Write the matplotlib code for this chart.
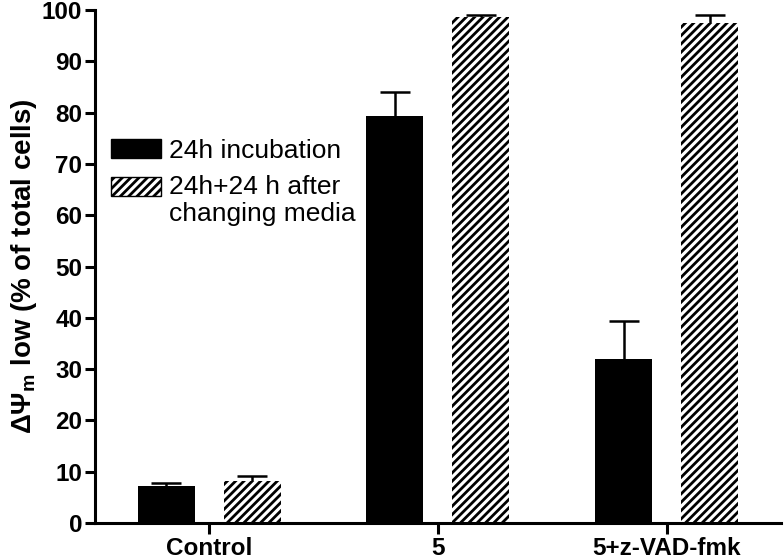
import numpy as np
import matplotlib
matplotlib.use("Agg")
import matplotlib.pyplot as plt
from matplotlib.patches import Rectangle
from matplotlib.legend_handler import HandlerPatch

plt.rcParams['font.family'] = ['Liberation Sans', 'DejaVu Sans']
plt.rcParams['mathtext.fontset'] = 'custom'
plt.rcParams['mathtext.rm'] = 'Liberation Sans'
plt.rcParams['mathtext.bf'] = 'Liberation Sans:bold'
plt.rcParams['mathtext.it'] = 'Liberation Sans:italic'
plt.rcParams['hatch.linewidth'] = 2.0
plt.rcParams['hatch.color'] = 'black'

kategorie = ['Control', '5', '5+z-VAD-fmk']
seria_24h = [7.3, 79.3, 31.9]
blad_24h = [0.6, 4.7, 7.5]
seria_48h = [8.2, 98.6, 97.5]
blad_48h = [1.0, 0.5, 1.6]
etykiety = ['24h incubation', '24h+24 h after\nchanging media']

x = np.arange(len(kategorie))
szer = 0.25
przes = 0.188
WZOR = '////'

fig = plt.figure(figsize=(7.84, 5.6), dpi=100)
ax = fig.add_axes([0.121, 0.066, 0.875, 0.916])


def slupki_bledu(xs, ys, bledy):
    # tylko gorna polowa bledu, jak w GraphPad
    ys = np.array(ys)
    gora = ys + np.array(bledy)
    ax.vlines(xs, ys, gora, color='black', linewidth=1.8, zorder=1)
    ax.plot(xs, gora, ls='none', marker='_', markersize=22, mew=1.8,
            color='black', zorder=1)


ax.bar(x - przes, seria_24h, szer, color='black', zorder=2)
slupki_bledu(x - przes, seria_24h, blad_24h)
ax.bar(x + przes, seria_48h, szer, color='white', edgecolor='black',
       linewidth=0, hatch=WZOR, zorder=2)
slupki_bledu(x + przes, seria_48h, blad_48h)

ax.set_ylim(0, 100)
ax.set_xlim(-0.5, 2.5)
ax.set_yticks(np.arange(0, 101, 10))
ax.set_xticks(x)
ax.set_xticklabels(kategorie, fontsize=17.5, fontweight='bold')
for t in ax.get_yticklabels():
    t.set_fontsize(17.5)
    t.set_fontweight('bold')

ax.set_ylabel(r'$\mathbf{\Delta\Psi_m}$ low (% of total cells)', fontsize=20,
              fontweight='bold', labelpad=2)

for s in ['top', 'right']:
    ax.spines[s].set_visible(False)
for s in ['left', 'bottom']:
    ax.spines[s].set_linewidth(2.2)
ax.tick_params(axis='y', length=7, width=2.2, pad=2)
ax.tick_params(axis='x', length=8, width=2.2, pad=2)

# uchwyty legendy
h_czarny = Rectangle((0, 0), 1, 1, facecolor='black', edgecolor='black', linewidth=1)
h_paski = Rectangle((0, 0), 1, 1, facecolor='white', edgecolor='black', linewidth=1,
                    hatch=WZOR)


def uchwyt_gora(legend, orig_handle, xdescent, ydescent, width, height, fontsize):
    # uchwyt na wysokosci pierwszej linii tekstu
    return Rectangle((-xdescent, -ydescent + 0.55 * fontsize), width, height)


ax.legend([h_czarny, h_paski], etykiety, loc='upper left',
          bbox_to_anchor=(0.0, 0.78), frameon=False, fontsize=19,
          handlelength=1.9, handleheight=0.75, handletextpad=0.3,
          labelspacing=0.45, borderaxespad=0.2,
          handler_map={h_paski: HandlerPatch(patch_func=uchwyt_gora)})

fig.savefig('out.png', dpi=100)
